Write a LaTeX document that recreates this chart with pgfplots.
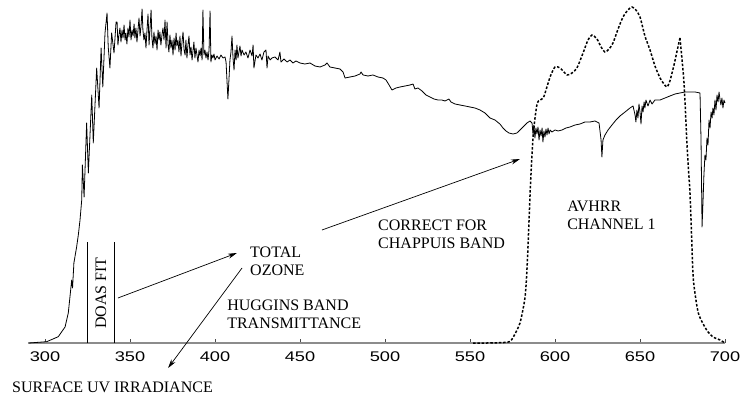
\documentclass[border=0pt]{standalone}
\usepackage{fontspec}
\setmainfont{Liberation Serif}
\newfontfamily\sansf{Liberation Sans}
\usepackage{graphicx}
\usepackage{pgfplots}
\pgfplotsset{compat=1.18}
\usetikzlibrary{arrows.meta}
\newcommand\hs[1]{\scalebox{1.3}[1]{#1}}
\newcommand\lf{\fontsize{16}{18}\selectfont}
\begin{document}
\begin{tikzpicture}
\begin{axis}[
  x=1.7pt, y=1pt,
  xmin=290, xmax=700, ymin=0, ymax=343,
  clip=false,
  axis x line=bottom, axis y line=none,
  axis line style={-, draw=black!45, line width=1.6pt},
  xtick={300,350,400,450,500,550,600,650,700},
  xticklabels={\hs{300},\hs{350},\hs{400},\hs{450},\hs{500},\hs{550},\hs{600},\hs{650},\hs{700}},
  xticklabel style={font=\sansf\fontsize{14}{14}\selectfont, inner sep=0pt, yshift=-9pt},
  tick align=inside, major tick length=4pt,
  tick style={draw=black!70, line width=0.8pt},
]
\path (axis cs:273.53,-56) rectangle (axis cs:710,343);
% solid spectrum
\addplot[black, line width=0.8pt, line join=round] coordinates {
(290.6,0) (301,1.3) (307.8,6.3) (311.8,16) (313.7,30) (315.1,53) (315.7,63) (316.2,55) (317,80)
(318.6,96) (319.6,108) (320.6,123) (321.6,143) (322,178) (323,146) (324.5,220) (325.5,170)
(327.5,248) (328.4,200) (330.4,275) (331.8,235) (333,295) (334,256) (335.3,310) (336.5,330)
(337.2,296) (338.2,275) (339.2,310) (340.6,290) (341.8,321)
(342.4,321) (342.9,298) (343.5,308) (344.1,315) (344.7,301) (345.3,313) (345.9,305) (346.5,318)
(347.1,303) (347.6,310) (348.2,299) (348.8,315) (349.4,306) (350,323) (350.6,303) (351.2,313)
(351.8,307) (352.4,319) (352.9,305) (353.5,315) (354.1,301) (354.7,313) (355.3,325) (355.9,307)
(356.5,317) (357.1,334) (357.6,313) (358.2,303) (358.8,310) (359.4,295) (360,313) (360.6,329)
(361.2,298) (361.8,315) (362.4,333) (362.9,305) (363.5,295) (364.1,311) (364.7,299) (365.3,307)
(365.9,293) (366.5,313) (367.1,303) (367.6,311) (368.2,298) (368.8,308) (369.4,315) (370,303)
(370.6,323) (371.2,295) (371.8,321) (372.4,298) (372.9,291) (373.5,308) (374.1,295) (374.7,303)
(375.3,288) (375.9,305) (376.5,293) (377.1,310) (377.6,297) (378.2,303) (378.8,291) (379.4,307)
(380,287) (380.6,301) (381.2,311) (381.8,293) (382.4,288) (382.9,303) (383.5,285) (384.1,298)
(384.7,307) (385.3,288) (385.9,296) (386.5,283) (387.1,293) (387.6,301) (388.2,285) (388.8,295)
(389.4,288) (390,281) (390.6,293) (391.2,287) (391.8,295) (392.4,283) (392.9,333) (393.5,288)
(394.1,293) (394.7,285) (395.3,291) (395.9,283) (396.5,293) (397.1,332) (397.6,281) (398.2,288)
(398.8,285) (399.4,289) (400,283) (401.2,287) (402.4,284) (403.5,288) (404.7,285) (405.9,286)
(406.5,281) (407.6,244) (408.2,263) (408.8,283) (409.4,291) (410,307) (410.6,285) (411.2,273)
(411.8,293) (412.4,283) (412.9,298) (413.5,285) (414.1,291) (414.7,297) (415.3,287) (415.9,293)
(417.1,288) (418.2,291) (419.4,285) (420.6,293) (421.8,287) (422.4,298) (422.9,275) (424.1,288)
(425.3,285) (426.5,289) (427.6,283) (428.8,291) (430,293) (430.6,275) (431.2,287) (432.4,283)
(433.5,285) (435.3,286) (437.1,283) (438.2,291) (438.8,281) (440.6,284) (442.4,281) (444.1,283)
(445.9,280) (447.6,282) (450,280) (452.9,279) (455.9,280) (458.8,277) (461.8,276) (464.7,278)
(465.9,280) (467.6,276) (470.6,275) (473.5,274) (475.3,271) (476.5,265) (479.4,266) (482.4,267)
(485.3,269) (485.9,271) (487.1,268) (490,267) (492.9,268) (495.9,266) (498.8,265) (500.6,263)
(502.4,258) (504.1,253) (506.5,255) (508.8,256) (511.8,257) (514.7,258) (516.5,259) (517.6,254)
(519.4,255) (521.8,252) (524.1,248) (526.5,246) (528.8,244) (531.2,243) (533.5,243) (535.3,242)
(537.6,244) (538.8,241) (541.2,239) (544.1,238) (547.1,237) (550,236) (552.9,235) (555.9,233)
(558.8,230) (561.8,225) (564.7,223) (567.6,219) (569.4,215) (571.2,212) (572.9,210) (575.3,209)
(577.6,210) (579.4,213) (581.2,216) (583.5,220) (585.3,222) (586.5,220) (587.1,208) (587.6,218)
(588.2,205) (588.8,215) (589.4,209) (590,216) (590.6,203) (591.2,213) (591.8,207) (592.4,215)
(592.9,201) (593.5,212) (594.1,206) (594.7,214) (595.3,208) (595.9,215) (596.5,209) (597.1,213)
(598.2,211) (600,213) (601.8,212) (604.1,213) (606.5,215) (608.8,216) (611.8,218) (614.7,219)
(617.6,221) (620.6,221) (623.5,222) (625.9,220) (627.1,203) (627.6,186) (628.2,203) (629.4,208)
(631.2,213) (633.5,218) (635.9,223) (638.2,227) (641.2,231) (644.1,235) (645.9,237) (647.1,228)
(647.6,221) (648.2,233) (648.8,225) (649.4,239) (650,231) (650.6,219) (651.2,237) (651.8,231)
(652.4,241) (652.9,235) (653.5,243) (654.7,237) (655.9,243) (657.1,239) (658.8,243) (661.8,243)
(664.7,245) (667.6,247) (670.6,249) (673.5,250) (676.5,251) (679.4,251) (682.4,251) (685.3,250)
(685.9,203) (686.5,116) (687.1,143) (687.6,168) (688.2,188) (688.8,183) (689.4,205) (690,198)
(690.6,223) (691.2,215) (691.8,231) (692.4,225) (692.9,235) (693.5,228) (694.1,243) (694.7,233)
(695.3,248) (695.9,241) (696.5,251) (697.1,243) (697.6,238) (698.2,245) (698.8,235) (699.4,243)
(700,240)
};
% AVHRR channel 1 response
\addplot[black, line width=1.5pt, dash pattern=on 2.5pt off 1.8pt, smooth, tension=0.4] coordinates {
(551.8,0) (560,0) (570,0.5) (573.5,1.5) (575.5,6) (579.4,20) (582.4,46) (583.7,80) (584.9,130)
(585.7,163) (587.3,210) (589.6,240) (593.1,245) (597.1,266) (600,276) (603,275) (607.1,268)
(610,270) (612.9,275) (616.5,290) (619.4,303) (621.8,308) (624.7,304) (627.1,296) (629.4,291)
(631.8,294) (634.1,300) (637.1,314) (640,326) (642.9,333) (645.3,336) (647.6,333) (650,326)
(652.9,307) (655.9,293) (658.8,277) (661.8,265) (664.1,259) (665.9,256) (667.6,262) (670,278)
(671.8,292) (673.5,305)
};
\addplot[black, line width=1.5pt, dash pattern=on 2.5pt off 1.8pt, smooth, tension=0.4] coordinates {
(673.5,305) (675.9,260) (677.8,193) (679.4,150) (680.5,100) (681.4,63) (684.3,30) (689.2,13)
(693,6) (697.1,3) (700,0)
};
% DOAS fit window
\addplot[black, line width=0.7pt] coordinates {(324.7,0) (324.7,101)};
\addplot[black, line width=0.7pt] coordinates {(340.6,0) (340.6,101)};
\node[rotate=90, inner sep=0pt, font=\lf] at (axis cs:332.9,50) {DOAS FIT};
% arrows
\draw[-{Stealth[length=9pt,width=5pt]}, line width=0.7pt] (axis cs:342.9,45) -- (axis cs:412.9,90);
\draw[-{Stealth[length=9pt,width=5pt]}, line width=0.7pt] (axis cs:415.9,75) -- (axis cs:372.4,-25);
\draw[-{Stealth[length=9pt,width=5pt]}, line width=0.7pt] (axis cs:462.9,113) -- (axis cs:579.4,184);
% labels
\node[anchor=west, align=left, inner sep=0pt, font=\lf] at (axis cs:420.6,82) {TOTAL\\OZONE};
\node[anchor=west, align=left, inner sep=0pt, font=\lf] at (axis cs:407.1,29) {HUGGINS BAND\\TRANSMITTANCE};
\node[anchor=west, align=left, inner sep=0pt, font=\lf] at (axis cs:495.9,109) {CORRECT FOR\\CHAPPUIS BAND};
\node[anchor=west, align=left, inner sep=0pt, font=\lf] at (axis cs:607.1,128) {AVHRR\\CHANNEL 1};
\node[anchor=west, inner sep=0pt, font=\lf] at (axis cs:280.6,-44) {SURFACE UV IRRADIANCE};
\end{axis}
\end{tikzpicture}
\end{document}
